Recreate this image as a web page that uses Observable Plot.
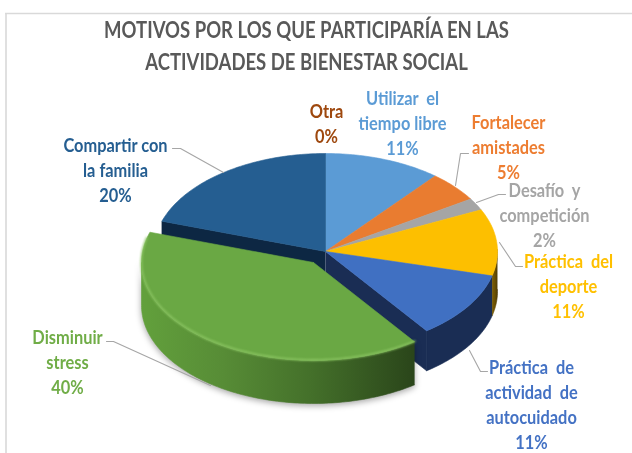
<!DOCTYPE html>
<html><head><meta charset="utf-8">
<script src="https://cdn.jsdelivr.net/npm/d3@7"></script>
<script src="https://cdn.jsdelivr.net/npm/@observablehq/plot@0.6"></script>
<style>
html,body{margin:0;padding:0;background:#fff}
svg{display:block}
.pieblur{filter:blur(.45px)}
.soft{filter:blur(1px)}
.shadow{filter:drop-shadow(0 2px 3px rgba(0,0,0,.35))}
.ttl,.lbl{filter:blur(.3px)}
</style></head><body><div id="chart"></div>
<script>
// Data
const categories = ["Otra","Utilizar el tiempo libre","Fortalecer amistades","Desafío y competición","Práctica del deporte","Práctica de actividad de autocuidado","Disminuir stress","Compartir con la familia"];
const percents = [0,11,5,2,11,11,40,20];
const labelLines = [["Otra"],["Utilizar  el","tiempo libre"],["Fortalecer","amistades"],["Desafío  y","competición"],["Práctica  del","deporte"],["Práctica  de","actividad  de","autocuidado"],["Disminuir","stress"],["Compartir con","la familia"]];
const colors = ["#9e480e","#5b9bd5","#e97c30","#a5a5a5","#fdbf00","#4070c2","#6aa844","#255e91"];
const labelColors = ["#9e480e","#5b9bd5","#ed7d31","#a5a5a5","#ffc000","#4472c4","#70ad47","#255e91"];
const titleLines = ["MOTIVOS POR LOS QUE PARTICIPARÍA EN LAS","ACTIVIDADES DE BIENESTAR SOCIAL"];

// Layout (not data)
const geom = {cx:325,cy:251,rx:172,ry:98,depth:40,greenDepth:43,ex:-12,ey:11};
const labelAnchors = [[326,112],[402,99],[508,123],[544,191],[568,262],[531,368],[67,338],[115,146]];
const leaders = [null,null,[[468,153],[460,153],[455,185]],[[505,194],[498,194],[476,202]],[[522,266],[515,266],[499,242]],[[487,371],[480,371],[469,350]],[[106,341],[113,341],[210,385]],[[172,148],[180,148],[223,172]]];
const idx = {use:1,fort:2,des:3,dep:4,auto:5,dis:6,comp:7};

const arcs = d3.pie().sort(null).startAngle(0).endAngle(2*Math.PI)(percents);
const P = (a,ox=0,oy=0,dz=0)=>({x:geom.cx+ox+geom.rx*Math.sin(a),y:geom.cy+oy+dz-geom.ry*Math.cos(a)});
const C = (ox=0,oy=0,dz=0)=>({x:geom.cx+ox,y:geom.cy+oy+dz});
const sweep=(a0,a1,ox,oy,dz)=>{const n=Math.max(2,Math.ceil(Math.abs(a1-a0)/0.02));return d3.range(n+1).map(i=>P(a0+(a1-a0)*i/n,ox,oy,dz));};
const wedge=(a0,a1,ox=0,oy=0)=>[C(ox,oy),...sweep(a0,a1,ox,oy,0),C(ox,oy)];
const wall=(a0,a1,ox=0,oy=0,d=geom.depth)=>[...sweep(a0,a1,ox,oy,0),...sweep(a1,a0,ox,oy,d)];
const cut=(a,ox=0,oy=0)=>[C(ox,oy),P(a,ox,oy),P(a,ox,oy,geom.depth),C(ox,oy,geom.depth)];
const poly=(pts,fill,className="pieblur")=>Plot.line(pts,{x:"x",y:"y",fill,stroke:fill,strokeWidth:.6,className});

const gradient=(id,stops)=>()=>{
  const s=d3.create("svg:defs"),g=s.append("linearGradient").attr("id",id);
  stops.forEach(([o,c])=>g.append("stop").attr("offset",o).attr("stop-color",c));
  return s.node();
};

const ed=i=>arcs[i].endAngle, st=i=>arcs[i].startAngle;
const half=Math.PI/2, threeHalf=3*Math.PI/2;
const {ex,ey}=geom;

const rows=[];
labelLines.forEach((lines,i)=>{
  const [x,y]=labelAnchors[i];
  lines.concat(percents[i]+"%").forEach((t,k)=>{
    rows.push({t,x,y:y+k*25,c:labelColors[i]});
  });
});
const titles=titleLines.map((t,i)=>({t,x:306,y:30+i*32}));

const marks=[
  gradient("gWall",[[0,"#62a03c"],[.3,"#578c36"],[.62,"#44702a"],[1,"#2a451a"]]),
  gradient("yWall",[[0,"#7a5c02"],[.5,"#6b5003"],[1,"#4c3a05"]]),
  Plot.ruleY([13],{x1:5,x2:632,stroke:"#d9d9d9",strokeWidth:1.6}),
  Plot.ruleX([5.5],{y1:13,y2:453,stroke:"#d9d9d9",strokeWidth:1.6}),
  poly(cut(ed(idx.dis)),"#0d2743"),
  poly(cut(ed(idx.auto)),"#1a2d54"),
  poly(wall(half-0.02,ed(idx.dep)),"url(#yWall)"),
  poly(wall(st(idx.auto),ed(idx.auto)),"#1a2d54"),
  ...[idx.use,idx.fort,idx.des,idx.dep,idx.auto,idx.comp].map(i=>poly(wedge(st(i),ed(i)),colors[i])),
  poly(wall(st(idx.dis),threeHalf,ex,ey,geom.greenDepth),"url(#gWall)","shadow"),
  poly(wedge(st(idx.dis),ed(idx.dis),ex,ey),colors[idx.dis]),
  Plot.line(sweep(st(idx.dis),threeHalf+0.25,ex,ey,-0.5),{x:"x",y:"y",stroke:"#8cc663",strokeWidth:1.8,className:"soft"}),
  ...leaders.filter(Boolean).map(l=>Plot.line(l.map(([x,y])=>({x,y})),{x:"x",y:"y",stroke:"#a6a6a6",strokeWidth:1.1})),
  Plot.text(titles,{x:"x",y:"y",text:"t",fill:"#595959",fontSize:23,fontWeight:700,fontFamily:"Lato",className:"ttl"}),
  Plot.text(rows,{x:"x",y:"y",text:"t",fill:"c",fontSize:18,fontWeight:700,fontFamily:"Lato",className:"lbl"})
];

const svg=Plot.plot({width:632,height:453,margin:0,
  x:{domain:[0,632],range:[0,632],axis:null},
  y:{domain:[0,453],range:[0,453],axis:null},
  style:{background:"#fff"},
  marks});
document.getElementById("chart").append(svg);

// Reference type is a condensed face: squeeze glyphs horizontally
const squeeze=(sel,f)=>d3.select(svg).selectAll(sel).each(function(){
  const l=this.getComputedTextLength();
  this.setAttribute("lengthAdjust","spacingAndGlyphs");
  this.setAttribute("textLength",l*f);
});
squeeze(".ttl text",0.805);
squeeze(".lbl text",0.91);
</script></body></html>
